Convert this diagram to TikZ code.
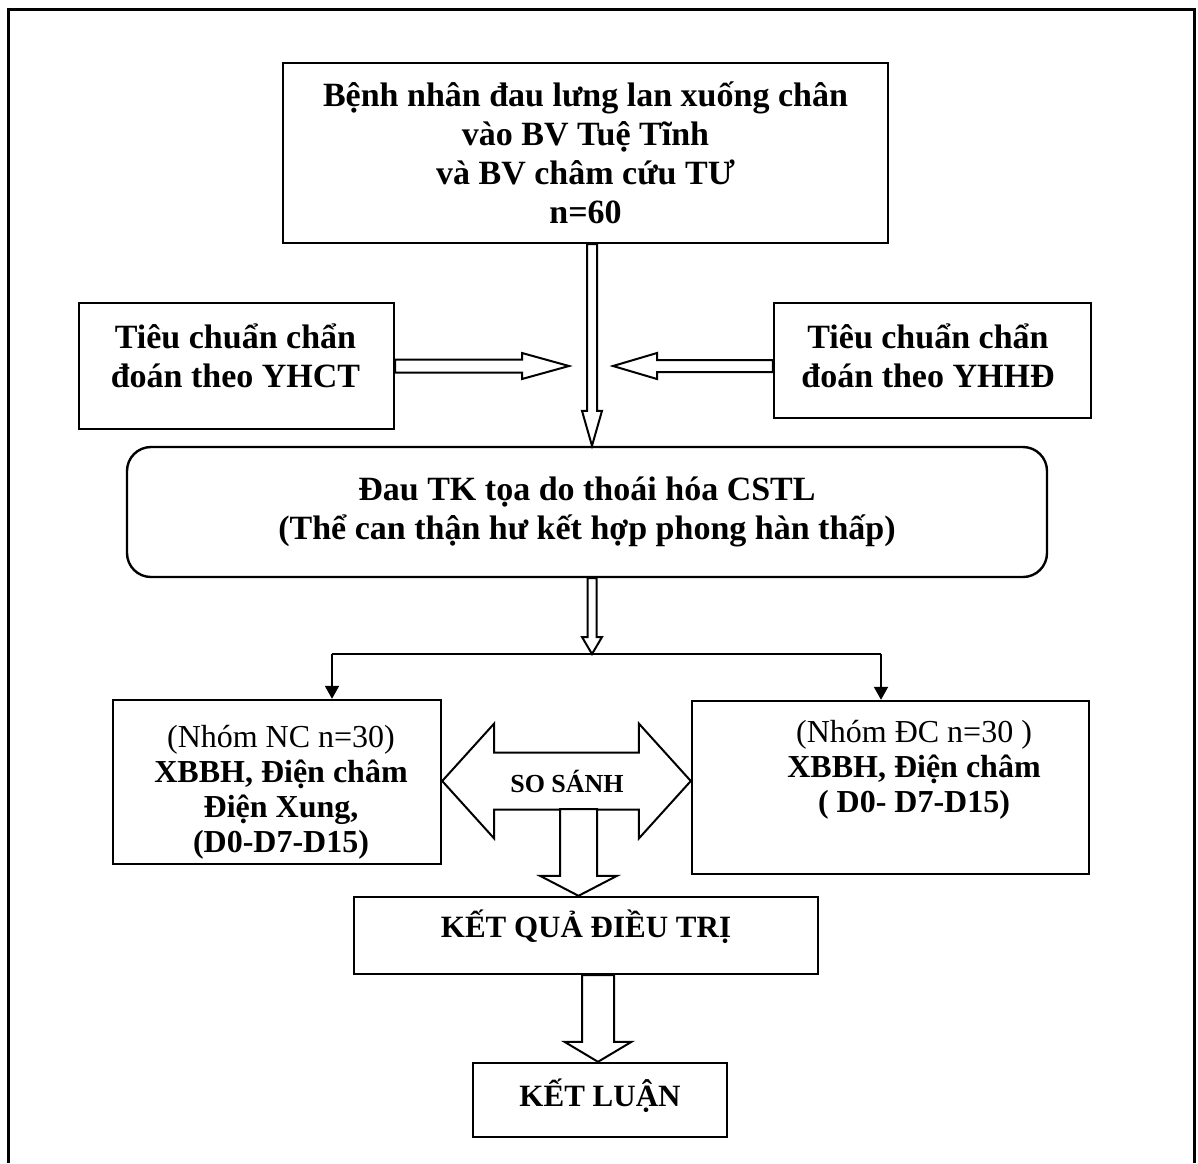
\documentclass[tikz,border=0pt]{standalone}
\usepackage{fontspec}
\setmainfont{Liberation Serif}
\usetikzlibrary{calc,positioning,arrows.meta}
\tikzset{
    hop/.style={
           rectangle,
           draw=black, line width=1.2pt,
           inner sep=0pt,
           align=center,
           font=\fontsize{17}{19.5}\selectfont\bfseries},
    hoptron/.style={
           hop,
           rounded corners=12pt},
    nhom/.style={
           hop,
           font=\fontsize{16}{17.5}\selectfont},
    chu/.style={
           draw=none},
    ketqua/.style={
           hop,
           font=\fontsize{15.5}{18}\selectfont\bfseries},
    pil/.style={
           -{Triangle[width=7pt,length=6.5pt]},
           line width=1pt},
    khoi/.style={
           draw=black, fill=white,
           line width=1pt,
           line join=miter}
}
% block arrow: from, to, half shaft, half head, head length
\newcommand{\blkarrow}[5]{%
  \coordinate (ba-h) at ($(#2)!#5!(#1)$);
  \filldraw[khoi] ($(#1)!#3!90:(#2)$) -- ($(ba-h)!#3!90:(#2)$) -- ($(ba-h)!#4!90:(#2)$)
     -- (#2) -- ($(ba-h)!#4!-90:(#2)$) -- ($(ba-h)!#3!-90:(#2)$) -- ($(#1)!#3!-90:(#2)$) -- cycle;
}
% double block arrow: from, to, half shaft, half head, head length
\newcommand{\dblarrow}[5]{%
  \coordinate (da-a) at ($(#1)!#5!(#2)$);
  \coordinate (da-b) at ($(#2)!#5!(#1)$);
  \filldraw[khoi] (#1) -- ($(da-a)!#4!90:(#2)$) -- ($(da-a)!#3!90:(#2)$)
     -- ($(da-b)!#3!-90:(#1)$) -- ($(da-b)!#4!-90:(#1)$) -- (#2)
     -- ($(da-b)!#4!90:(#1)$) -- ($(da-b)!#3!90:(#1)$)
     -- ($(da-a)!#3!-90:(#2)$) -- ($(da-a)!#4!-90:(#2)$) -- cycle;
}

\begin{document}
\begin{tikzpicture}[x=0.5pt, y=-0.5pt]
        \useasboundingbox (0,0) rectangle (1198,1163);
        \draw[line width=1.5pt] (8.5,1163) -- (8.5,9.5) -- (1194.5,9.5) -- (1194.5,1163);

        \node[hop, minimum width=302.5pt, minimum height=90pt] (bn) at (585.5,153) {Bệnh nhân đau lưng lan xuống chân\\ vào BV Tuệ Tĩnh\\ và BV châm cứu TƯ\\ n=60};
        \node[hop, minimum width=157.5pt, minimum height=63pt] (yhct) at (236.5,366) {};
        \node[hop, chu] (yhcttxt) at (235.5,356) {Tiêu chuẩn chẩn\\ đoán theo YHCT};
        \node[hop, minimum width=158.5pt, minimum height=57.5pt] (yhhd) at (932.5,360.5) {};
        \node[hop, chu] (yhhdtxt) at (928,356) {Tiêu chuẩn chẩn\\ đoán theo YHHĐ};
        \node[hoptron, minimum width=460pt, minimum height=65pt] (dau) at (587,512) {Đau TK tọa do thoái hóa CSTL\\ (Thể can thận hư kết hợp phong hàn thấp)};
        \node[nhom, minimum width=164pt, minimum height=82pt] (nc) at (277,782) {};
        \node[nhom, chu] (nctxt) at (281,792) {(Nhóm NC n=30)\\ \textbf{XBBH, Điện châm}\\ \textbf{Điện Xung,}\\ \textbf{(D0-D7-D15)}};
        \node[nhom, minimum width=198.5pt, minimum height=86.5pt] (dc) at (890.5,787.5) {};
        \node[nhom, chu, anchor=north] (dctxt) at (914,719) {(Nhóm ĐC n=30 )\\ \textbf{XBBH, Điện châm}\\ \textbf{( D0- D7-D15)}};
        \node[ketqua, minimum width=232pt, minimum height=38.5pt, text depth=12pt] (kq) at (586,935.5) {KẾT QUẢ ĐIỀU TRỊ};
        \node[ketqua, minimum width=127pt, minimum height=37pt, text depth=7pt] (kl) at (600,1100) {KẾT LUẬN};

        \coordinate (truc) at (592,300);
        \coordinate (a1) at (bn.south -| truc);
        \coordinate (a2) at (dau.north -| truc);
        \coordinate (tipL) at (569,366);
        \coordinate (tipR) at (613,366);
        \coordinate (a3) at (yhct.east |- tipL);
        \coordinate (a4) at (yhhd.west |- tipR);
        \coordinate (re) at (592,654);
        \coordinate (a5) at (dau.south -| re);
        \coordinate (reL) at (332,654);
        \coordinate (reR) at (881,654);
        \coordinate (ss0) at (567,781);
        \coordinate (a6) at (nc.east |- ss0);
        \coordinate (a7) at (dc.west |- ss0);
        \coordinate (a8) at (578.5,809);
        \coordinate (a9) at (kq.north -| a8);
        \coordinate (kx) at (598,0);
        \coordinate (a10) at (kq.south -| kx);
        \coordinate (a11) at (kl.north -| kx);

        \blkarrow{a1}{a2}{2.5pt}{5pt}{17.5pt}
        \blkarrow{a3}{tipL}{3.25pt}{6.5pt}{23.5pt}
        \blkarrow{a4}{tipR}{3pt}{6.5pt}{22pt}
        \blkarrow{a5}{re}{2.25pt}{5pt}{8.5pt}

        \draw[line width=1pt] (reL) -- (reR);
        \draw[pil] (reL) -- (reL |- nc.north);
        \draw[pil] (reR) -- (reR |- dc.north);

        \dblarrow{a6}{a7}{14.25pt}{28.75pt}{26pt}
        \node[font=\fontsize{13}{15}\selectfont\bfseries] (ss) at (ss0) {SO SÁNH};
        \blkarrow{a8}{a9}{9.25pt}{19.25pt}{10pt}
        \blkarrow{a10}{a11}{8pt}{16.75pt}{10pt}
\end{tikzpicture}
\end{document}
